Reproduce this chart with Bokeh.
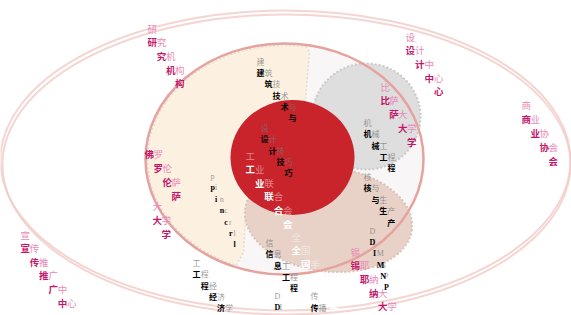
import numpy as np
from bokeh.plotting import figure
from bokeh.models import Range1d, ColumnDataSource
from bokeh.core.properties import value
from bokeh.embed import file_html
from bokeh.resources import INLINE

# ---- labels (staircase words) ----
word_texts = ["研究机构", "设计中心", "比萨大学", "商业协会", "佛罗伦萨", "大学",
              "宣传推广中心", "锡耶纳大学", "建筑技术与", "设计技巧", "工业联合会",
              "全国手工业大学", "信息工程", "工程经济学", "机械工程", "核与生产",
              "传播", "pincrl", "DIMNP", "DI"]
word_kind = ["m", "m", "m", "m", "m", "m", "m", "m", "k", "k", "w",
             "w", "k", "k", "k", "k", "k", "kl", "kl", "kl"]
# layout of each word: start position and per-character step
word_x = [147, 405, 380, 521, 144, 152, 20, 350, 256, 260, 245,
          291, 265, 192, 363, 363, 310, 210, 369, 274]
word_y = [28, 36, 86, 104, 140, 205, 234, 251, 61, 127, 155,
          236, 242, 262, 122, 176, 295, 176, 231, 296]
word_dx = [9.2, 9.5, 8.8, 9.0, 9.0, 9.0, 9.3, 9.2, 8.0, 8.0, 9.4,
           9.5, 8.2, 8.2, 8.0, 7.9, 8.0, 4.6, 3.6, 5.0]
word_dy = [13.7, 13.7, 13.8, 14.0, 13.8, 14.0, 13.6, 13.7, 11.2, 11.3, 13.6,
           13.5, 11.3, 11.3, 11.3, 11.4, 11.5, 11.4, 11.2, 11.0]
word_skip_first = [False, False, False, False, True, False, False, False, False, False, False,
                   False, False, False, False, False, False, False, False, False]

styles = {
    "m":  dict(bold="#c4176a", light="#e98ab5", light_alpha=1.0, size="9.5px", font="Noto Sans CJK SC"),
    "k":  dict(bold="#000000", light="#777777", light_alpha=0.75, size="8px", font="Noto Sans CJK SC"),
    "w":  dict(bold="#ffffff", light="#ffffff", light_alpha=0.45, size="9.5px", font="Noto Sans CJK SC"),
    "kl": dict(bold="#000000", light="#777777", light_alpha=0.75, size="8px", font="Liberation Serif"),
}

W, H = 571, 315
p = figure(width=W, height=H, x_range=Range1d(0, W), y_range=Range1d(H, 0),
           output_backend="svg", toolbar_location=None, min_border=0)
p.axis.visible = False
p.grid.visible = False
p.outline_line_color = None
p.background_fill_color = "white"
p.border_fill_color = "white"

# ---- background shapes ----
# outer ellipses
p.ellipse(x=[285, 286], y=[160, 164], width=[570, 568], height=[300, 300],
          fill_color=None, line_color="#f1cbc5", line_width=2, line_alpha=0.8)

# big circle
bcx, bcy, brx, bry = 284, 158.5, 139, 115.5
p.ellipse(x=[bcx], y=[bcy], width=[2 * brx], height=[2 * bry],
          fill_color="#f8f6f6", line_color=None)

# cream region
th = np.radians(np.linspace(-80.5, -249.4, 80))
cx = list(bcx + (brx - 2) * np.cos(th)) + [243, 245, 252, 300, 305, 309]
cy = list(bcy + (bry - 2) * np.sin(th)) + [252, 215, 195, 120, 98, 52]
p.patch(cx, cy, fill_color="#fcf1e1", line_color="#e6dccd", line_width=1.5, line_dash="2 2")

# grey region
p.ellipse(x=[366], y=[116], width=[108], height=[106],
          fill_color="#dedede", line_color="#c9c9c9", line_width=2, line_dash="2 2")

# brownish region
p.ellipse(x=[328], y=[219], width=[168], height=[104], angle=[-0.12],
          fill_color="#e8d2c8", line_color="#dac2b8", line_width=2, line_dash="2 2")

# red circle
p.ellipse(x=[292], y=[157], width=[124], height=[115],
          fill_color="#c9232c", line_color=None)

# big circle outline
p.ellipse(x=[bcx], y=[bcy], width=[2 * brx], height=[2 * bry],
          fill_color=None, line_color="#e6a39e", line_width=2.5)

# ---- staircase texts ----
YMAX = H - 6
groups = {}

def add(key, x, y, ch):
    if y > YMAX:
        return
    g = groups.setdefault(key, {"x": [], "y": [], "t": []})
    g["x"].append(x); g["y"].append(y); g["t"].append(ch)

for t, k, x0, y0, dx, dy, sk in zip(word_texts, word_kind, word_x, word_y,
                                    word_dx, word_dy, word_skip_first):
    for i, ch in enumerate(t):
        if not (sk and i == 0):
            add((k, "light"), x0 + i * dx, y0 + i * dy, ch)
        add((k, "bold"), x0 + i * dx, y0 + (i + 1) * dy, ch)

for (k, w), g in groups.items():
    st = styles[k]
    src = ColumnDataSource(dict(x=g["x"], y=g["y"], t=g["t"]))
    if w == "light":
        p.text(x="x", y="y", text="t", source=src, text_color=st["light"],
               text_alpha=st["light_alpha"], text_font=value(st["font"]),
               text_font_size=st["size"], text_font_style="normal",
               text_align="left", text_baseline="middle")
    else:
        p.text(x="x", y="y", text="t", source=src, text_color=st["bold"],
               text_font=value(st["font"]), text_font_size=st["size"],
               text_font_style="bold", text_align="left", text_baseline="middle")

open("out.html", "w").write(file_html(p, INLINE))
